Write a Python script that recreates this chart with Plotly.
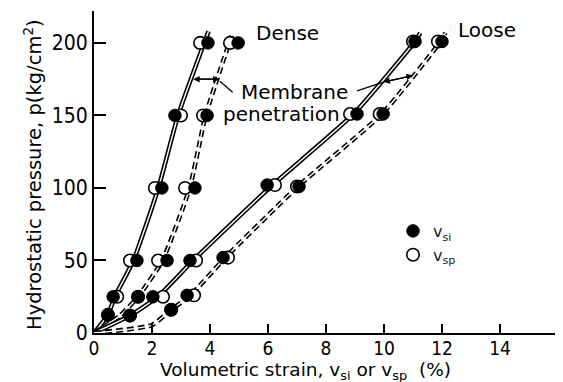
import plotly.graph_objects as go

# ---------------- data ----------------
# Dense, solid-line test
dense_s_p      = [12.5, 25, 50, 100, 150, 200]
dense_s_vsi    = [0.48, 0.66, 1.48, 2.34, 2.79, 3.93]
dense_s_vsp    = [0.48, 0.80, 1.24, 2.10, 3.00, 3.66]
dense_s_line_x = [0, 0.48, 0.72, 1.36, 2.22, 2.90, 3.95]
dense_s_line_p = [0, 12.5, 25, 50, 100, 150, 208]

# Dense, dashed-line test
dense_d_p      = [25, 50, 100, 150, 200]
dense_d_vsi    = [1.52, 2.52, 3.48, 3.90, 4.97]
dense_d_vsp    = [1.52, 2.21, 3.14, 3.76, 4.69]
dense_d_line_x = [0, 0.90, 1.52, 2.36, 3.30, 3.85, 4.78]
dense_d_line_p = [0, 12, 25, 50, 100, 150, 207]

# Loose, solid-line test
loose_s_p      = [12, 25, 50, 102, 151, 201]
loose_s_vsi    = [1.24, 2.03, 3.31, 5.97, 9.07, 11.07]
loose_s_vsp    = [1.24, 2.38, 3.52, 6.24, 8.83, 11.00]
loose_s_line_x = [0, 1.24, 2.20, 3.42, 6.10, 8.95, 11.07, 11.25]
loose_s_line_p = [0, 12, 25, 50, 101, 151, 201, 207]

# Loose, dashed-line test
loose_d_p      = [16, 26, 52, 101, 151, 201]
loose_d_vsi    = [2.66, 3.21, 4.45, 7.07, 9.97, 12.00]
loose_d_vsp    = [2.66, 3.45, 4.62, 7.00, 9.85, 11.86]
loose_d_line_x = [0, 2.00, 2.66, 3.33, 4.53, 7.03, 9.93, 11.95, 12.12]
loose_d_line_p = [0, 5.5, 16, 26, 52, 101, 151, 201, 207]

x_ticks = [0, 2, 4, 6, 8, 10, 12, 14]
y_ticks = [0, 50, 100, 150, 200]

FONT = "DejaVu Sans"
TICKFONT = "DejaVu Sans Condensed"

fig = go.Figure()

# double lines: thick black + thin white core
for lx, lp, dash in [(dense_s_line_x, dense_s_line_p, "solid"),
                     (dense_d_line_x, dense_d_line_p, "7px,4px"),
                     (loose_s_line_x, loose_s_line_p, "solid"),
                     (loose_d_line_x, loose_d_line_p, "7px,4px")]:
    fig.add_trace(go.Scatter(x=lx, y=lp, mode="lines", showlegend=False, hoverinfo="skip",
                             line=dict(color="black", width=4.6, dash=dash, shape="spline", smoothing=0.5)))
    fig.add_trace(go.Scatter(x=lx, y=lp, mode="lines", showlegend=False, hoverinfo="skip",
                             line=dict(color="white", width=1.4, shape="spline", smoothing=0.5)))

open_marker = dict(symbol="circle", size=12.5, color="white", line=dict(color="black", width=1.6))
fill_marker = dict(symbol="circle", size=12.5, color="black", line=dict(color="black", width=1))

sets = [(dense_s_p, dense_s_vsi, dense_s_vsp),
        (dense_d_p, dense_d_vsi, dense_d_vsp),
        (loose_s_p, loose_s_vsi, loose_s_vsp),
        (loose_d_p, loose_d_vsi, loose_d_vsp)]

for i, (p, vsi, vsp) in enumerate(sets):
    fig.add_trace(go.Scatter(x=vsp, y=p, mode="markers", marker=open_marker,
                             name="v<sub>sp</sub>", legendgroup="vsp", legendrank=2,
                             showlegend=(i == 0)))
for i, (p, vsi, vsp) in enumerate(sets):
    fig.add_trace(go.Scatter(x=vsi, y=p, mode="markers", marker=fill_marker,
                             name="v<sub>si</sub>", legendgroup="vsi", legendrank=1,
                             showlegend=(i == 0)))

annos = [
    dict(x=5.55, y=207, text="Dense"),
    dict(x=12.52, y=209, text="Loose"),
    dict(x=5.03, y=166.5, text="Membrane"),
    dict(x=4.41, y=151.0, text="penetration"),
]
for a in annos:
    a.update(showarrow=False, xref="x", yref="y", xanchor="left", yanchor="middle", borderpad=0,
             font=dict(family=FONT, size=20, color="black"))

# arrows for membrane penetration
arrows = [
    dict(x=3.42, y=175, ax=4.33, ay=175),
    dict(x=4.33, y=175, ax=3.42, ay=175),
    dict(x=9.98, y=173, ax=11.0, ay=177.5),
    dict(x=11.0, y=177.5, ax=9.98, ay=173),
]
for a in arrows:
    a.update(xref="x", yref="y", axref="x", ayref="y", showarrow=True, text=" ",
             arrowhead=2, arrowsize=1, arrowwidth=1.3, arrowcolor="black")
annos += arrows

# axis titles as paper annotations (plot area spans window px x 94-563, y 11-333)
annos.append(dict(x=(305 - 94) / 469, y=-(371 - 333) / 322, xref="paper", yref="paper",
                  text="Volumetric strain, v<sub>si</sub> or v<sub>sp</sub>  (%)",
                  showarrow=False, xanchor="center", yanchor="middle", borderpad=0,
                  font=dict(family=FONT, size=18.5, color="black")))
annos.append(dict(x=-(94 - 33) / 469, y=(333 - 175) / 322, xref="paper", yref="paper",
                  text="Hydrostatic pressure, p(kg/cm<sup>2</sup>)", textangle=-90,
                  showarrow=False, xanchor="center", yanchor="middle",
                  font=dict(family=FONT, size=19.5, color="black")))

shapes = [
    dict(type="line", xref="x", yref="y", x0=4.34, y0=173.5, x1=4.78, y1=166, line=dict(color="black", width=1.3)),
    dict(type="line", xref="x", yref="y", x0=9.07, y0=167, x1=9.98, y1=173, line=dict(color="black", width=1.3)),
]

# the page body has an 8px margin, so the figure is 8px smaller and margins shifted
fig.update_layout(
    width=555, height=374,
    margin=dict(l=86, r=0, t=3, b=49, autoexpand=False),
    paper_bgcolor="white", plot_bgcolor="white",
    annotations=annos, shapes=shapes,
    font=dict(family=FONT, color="black"),
    showlegend=True,
    legend=dict(x=(393 - 94) / 469, y=(333 - 214) / 322, xanchor="left", yanchor="top",
                bgcolor="rgba(0,0,0,0)", font=dict(family=FONT, size=16, color="#222"),
                itemsizing="trace", tracegroupgap=0),
    xaxis=dict(range=[0, 469 / 29], tickvals=x_ticks, ticks="inside", ticklen=9, tickwidth=1.5,
               tickcolor="black", showline=True, linecolor="black", linewidth=2,
               showgrid=False, zeroline=False, automargin=False, ticklabelstandoff=-3,
               tickfont=dict(family=TICKFONT, size=19, color="black")),
    yaxis=dict(range=[0, 222], tickvals=y_ticks, ticks="inside", ticklen=12, tickwidth=1.5,
               tickcolor="black", showline=True, linecolor="black", linewidth=2,
               showgrid=False, zeroline=False, automargin=False,
               tickfont=dict(family=TICKFONT, size=21, color="black")),
)

fig.write_html("out.html")
